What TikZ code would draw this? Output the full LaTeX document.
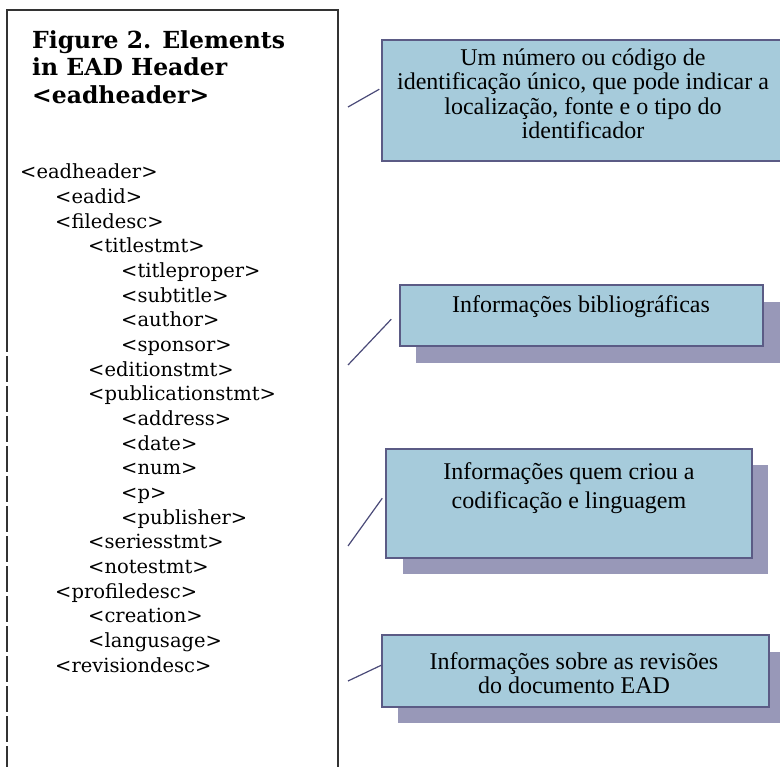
\documentclass[tikz,border=0pt]{standalone}
\usepackage{fontspec}
\setmainfont{Liberation Serif}
\newfontfamily\listfont{DejaVu Serif}
\newfontfamily\hdrfamily{DejaVu Serif}
\definecolor{boxfill}{HTML}{A6CBDB}
\definecolor{boxedge}{HTML}{5B5B85}
\definecolor{shadowc}{HTML}{9898B8}
\definecolor{linkc}{HTML}{4A4A78}
\definecolor{framec}{HTML}{333333}
\tikzset{
  frameln/.style={draw=framec, line width=2.2pt},
  callout/.style={draw=boxedge, fill=boxfill, line width=1.5pt, inner sep=0pt},
  shadowbox/.style={fill=shadowc, draw=none, inner sep=0pt},
  calltext/.style={align=center, font=\fontsize{24}{24.5}\selectfont, inner sep=0pt},
  link/.style={draw=linkc, line width=1.2pt},
  item/.style={anchor=base west, inner sep=0pt, font=\listfont\fontsize{19.5}{20}\selectfont},
  hdr/.style={anchor=north west, align=left, inner sep=0pt, font=\hdrfamily\bfseries\fontsize{23.5}{27.5}\selectfont}
}
\begin{document}
\begin{tikzpicture}[x=1pt,y=-1pt]
\useasboundingbox (0,0) rectangle (780,767);
% frame
\draw[frameln] (7,326) -- (7,10) -- (338,10) -- (338,770);
\draw[frameln, dash pattern=on 26pt off 4pt] (7,326) -- (7,770);
% header
\node[hdr] (hd) at (32,30) {Figure 2. Elements\\in EAD Header\\<eadheader>};
% list
\node[item] (i1) at (20,179) {<eadheader>};
\node[item] (i2) at (55,203.6) {<eadid>};
\node[item] (i3) at (55,228.3) {<filedesc>};
\node[item] (i4) at (88,252.9) {<titlestmt>};
\node[item] (i5) at (121,277.6) {<titleproper>};
\node[item] (i6) at (121,302.2) {<subtitle>};
\node[item] (i7) at (121,326.9) {<author>};
\node[item] (i8) at (121,351.5) {<sponsor>};
\node[item] (i9) at (88,376.2) {<editionstmt>};
\node[item] (i10) at (88,400.8) {<publicationstmt>};
\node[item] (i11) at (121,425.5) {<address>};
\node[item] (i12) at (121,450.1) {<date>};
\node[item] (i13) at (121,474.8) {<num>};
\node[item] (i14) at (121,499.4) {<p>};
\node[item] (i15) at (121,524.1) {<publisher>};
\node[item] (i16) at (88,548.7) {<seriesstmt>};
\node[item] (i17) at (88,573.4) {<notestmt>};
\node[item] (i18) at (55,598.0) {<profiledesc>};
\node[item] (i19) at (88,622.7) {<creation>};
\node[item] (i20) at (88,647.3) {<langusage>};
\node[item] (i21) at (55,672.0) {<revisiondesc>};
% shadows
\node[shadowbox, minimum width=364pt, minimum height=61pt] (s2) at (598,332.5) {};
\node[shadowbox, minimum width=365pt, minimum height=109pt] (s3) at (585.5,519.5) {};
\node[shadowbox, minimum width=387pt, minimum height=71pt] (s4) at (591.5,687.5) {};
% boxes
\node[callout, minimum width=402pt, minimum height=121pt] (b1) at (583,100.5) {};
\node[callout, minimum width=363pt, minimum height=61pt] (b2) at (581.5,315.5) {};
\node[callout, minimum width=366pt, minimum height=109pt] (b3) at (569,503.5) {};
\node[callout, minimum width=387pt, minimum height=72pt] (b4) at (575.5,671) {};
% texts
\node[calltext] (t1) at (583,94) {Um número ou código de\\identificação único, que pode indicar a\\localização, fonte e o tipo do\\identificador};
\node[calltext] (t2) at (581,307) {Informações bibliográficas};
\node[calltext, font=\fontsize{24}{28.5}\selectfont] (t3) at (569,488) {Informações quem criou a\\codificação e linguagem};
\node[calltext] (t4) at (574,673) {Informações sobre as revisões\\do documento EAD};
% connectors
\coordinate (c1) at (348,107);
\coordinate (c2) at (348,365);
\coordinate (c3) at (348,546);
\coordinate (c4) at (348,681);
\draw[link] (c1) -- ([xshift=-2pt,yshift=-50pt]b1.north west);
\draw[link] (c2) -- ([xshift=-8pt,yshift=-35pt]b2.north west);
\draw[link] (c3) -- ([xshift=-3pt,yshift=-50pt]b3.north west);
\draw[link] (c4) -- ([yshift=-31pt]b4.north west);
\end{tikzpicture}
\end{document}
